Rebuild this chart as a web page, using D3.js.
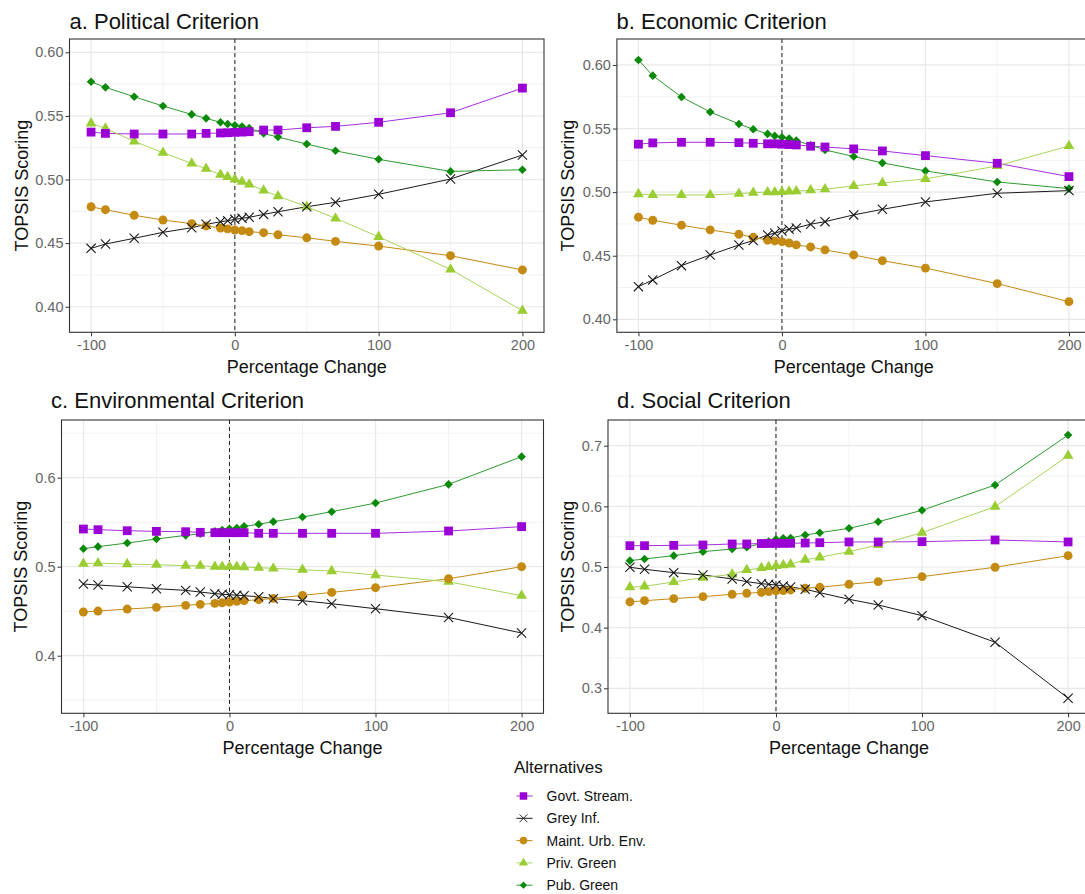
<!DOCTYPE html>
<html>
<head>
<meta charset="utf-8">
<script src="https://cdn.jsdelivr.net/npm/d3@7"></script>
<style>
  body { margin: 0; background: #fff; }
  svg { display: block; font-family: "Liberation Sans", Arial, Helvetica, sans-serif; }
</style>
</head>
<body>
<svg id="chart" width="1085" height="894"></svg>
<script>
// Percentage change applied to each criterion weight
const changes = [-100, -90, -70, -50, -30, -20, -10, -5, 0, 5, 10, 20, 30, 50, 70, 100, 150, 200];

const alternatives = ["Govt. Stream.", "Grey Inf.", "Maint. Urb. Env.", "Priv. Green", "Pub. Green"];

// TOPSIS scores, political criterion
const politicalGovt  = [0.5373,0.5363,0.5358,0.5358,0.5358,0.5363,0.5366,0.5368,0.5371,0.5373,0.5376,0.5389,0.5389,0.5407,0.5418,0.5450,0.5525,0.5719];
const politicalGrey  = [0.4459,0.4493,0.4538,0.4585,0.4621,0.4648,0.4668,0.4676,0.4687,0.4695,0.4703,0.4726,0.4747,0.4786,0.4821,0.4884,0.5004,0.5193];
const politicalMaint = [0.4786,0.4763,0.4719,0.4682,0.4653,0.4635,0.4619,0.4612,0.4603,0.4598,0.4590,0.4582,0.4566,0.4542,0.4514,0.4477,0.4401,0.4289];
const politicalPriv  = [0.5442,0.5402,0.5300,0.5211,0.5127,0.5085,0.5038,0.5020,0.5002,0.4983,0.4962,0.4915,0.4870,0.4786,0.4695,0.4550,0.4294,0.3969];
const politicalPub   = [0.5769,0.5725,0.5651,0.5578,0.5512,0.5481,0.5450,0.5437,0.5427,0.5417,0.5404,0.5363,0.5334,0.5279,0.5226,0.5159,0.5064,0.5077];

// TOPSIS scores, economic criterion
const economicGovt  = [0.5377,0.5387,0.5392,0.5392,0.5389,0.5384,0.5380,0.5380,0.5377,0.5374,0.5371,0.5361,0.5355,0.5340,0.5324,0.5287,0.5227,0.5122];
const economicGrey  = [0.4257,0.4310,0.4422,0.4506,0.4585,0.4619,0.4664,0.4677,0.4695,0.4708,0.4719,0.4748,0.4768,0.4821,0.4865,0.4923,0.4991,0.5012];
const economicMaint = [0.4803,0.4779,0.4740,0.4703,0.4669,0.4645,0.4622,0.4616,0.4611,0.4600,0.4585,0.4569,0.4546,0.4506,0.4461,0.4403,0.4281,0.4139];
const economicPriv  = [0.4985,0.4978,0.4978,0.4978,0.4988,0.4996,0.5000,0.5000,0.5002,0.5005,0.5007,0.5015,0.5023,0.5049,0.5072,0.5104,0.5206,0.5363];
const economicPub   = [0.6039,0.5916,0.5748,0.5630,0.5536,0.5494,0.5458,0.5442,0.5432,0.5421,0.5405,0.5369,0.5332,0.5280,0.5230,0.5167,0.5080,0.5028];

// TOPSIS scores, environmental criterion
const environmentalGovt  = [0.5423,0.5416,0.5404,0.5397,0.5393,0.5386,0.5382,0.5382,0.5382,0.5382,0.5382,0.5375,0.5375,0.5375,0.5375,0.5375,0.5401,0.5450];
const environmentalGrey  = [0.4805,0.4794,0.4775,0.4753,0.4734,0.4715,0.4697,0.4691,0.4685,0.4680,0.4674,0.4663,0.4640,0.4618,0.4584,0.4528,0.4430,0.4255];
const environmentalMaint = [0.4491,0.4502,0.4524,0.4543,0.4566,0.4577,0.4588,0.4595,0.4603,0.4610,0.4618,0.4629,0.4644,0.4678,0.4711,0.4764,0.4865,0.5000];
const environmentalPriv  = [0.5034,0.5040,0.5030,0.5022,0.5011,0.5011,0.5000,0.5000,0.5000,0.5000,0.4996,0.4989,0.4981,0.4966,0.4951,0.4906,0.4831,0.4674];
const environmentalPub   = [0.5202,0.5225,0.5266,0.5311,0.5352,0.5370,0.5397,0.5412,0.5427,0.5435,0.5453,0.5476,0.5506,0.5558,0.5618,0.5715,0.5925,0.6236];

// TOPSIS scores, social criterion
const socialGovt  = [0.5352,0.5352,0.5357,0.5363,0.5380,0.5380,0.5387,0.5388,0.5389,0.5390,0.5391,0.5396,0.5401,0.5413,0.5413,0.5418,0.5446,0.5413];
const socialGrey  = [0.4996,0.4963,0.4907,0.4869,0.4803,0.4759,0.4725,0.4715,0.4704,0.4688,0.4671,0.4633,0.4577,0.4468,0.4374,0.4198,0.3760,0.2837];
const socialMaint = [0.4424,0.4445,0.4478,0.4511,0.4550,0.4567,0.4583,0.4594,0.4605,0.4613,0.4622,0.4650,0.4666,0.4715,0.4759,0.4841,0.4996,0.5187];
const socialPriv  = [0.4666,0.4682,0.4753,0.4825,0.4880,0.4951,0.4984,0.5000,0.5017,0.5030,0.5045,0.5121,0.5160,0.5253,0.5363,0.5566,0.5995,0.6835];
const socialPub   = [0.5105,0.5133,0.5187,0.5253,0.5297,0.5325,0.5390,0.5420,0.5457,0.5474,0.5479,0.5528,0.5566,0.5638,0.5747,0.5935,0.6352,0.7176];

// Axis ticks
const xTicks = [-100, 0, 100, 200];
const xMinorTicks = [-50, 50, 150];
const yTicksPolitical = [0.40, 0.45, 0.50, 0.55, 0.60];
const yTicksEconomic = [0.40, 0.45, 0.50, 0.55, 0.60];
const yTicksEnvironmental = [0.4, 0.5, 0.6];
const yTicksSocial = [0.3, 0.4, 0.5, 0.6, 0.7];

const panelTitles = ["a. Political Criterion", "b. Economic Criterion", "c. Environmental Criterion", "d. Social Criterion"];

// Appearance of each alternative
const styles = {
  "Govt. Stream.":    { color: "#9a00d6", line: "#a62ee0", shape: "square" },
  "Grey Inf.":        { color: "#1a1a1a", line: "#1a1a1a", shape: "cross" },
  "Maint. Urb. Env.": { color: "#c48a12", line: "#c48a12", shape: "circle" },
  "Priv. Green":      { color: "#9acd32", line: "#a8d45a", shape: "triangle" },
  "Pub. Green":       { color: "#0a8a0a", line: "#2e9a2e", shape: "diamond" }
};

const panels = [
  { title: panelTitles[0], series: [politicalGovt, politicalGrey, politicalMaint, politicalPriv, politicalPub],
    yTicks: yTicksPolitical, fmt: ".2f", yDomain: [0.3799, 0.6105],
    box: { left: 69.5, right: 544, top: 39, bottom: 332.3 }, titleX: 69.5, titleY: 28.5, yLabelX: 22 },
  { title: panelTitles[1], series: [economicGovt, economicGrey, economicMaint, economicPriv, economicPub],
    yTicks: yTicksEconomic, fmt: ".2f", yDomain: [0.3898, 0.6204],
    box: { left: 616.9, right: 1090.5, top: 39, bottom: 332.3 }, titleX: 616.5, titleY: 28.5, yLabelX: 568 },
  { title: panelTitles[2], series: [environmentalGovt, environmentalGrey, environmentalMaint, environmentalPriv, environmentalPub],
    yTicks: yTicksEnvironmental, fmt: ".1f", yDomain: [0.3353, 0.6648],
    box: { left: 61.5, right: 543.5, top: 420, bottom: 713.3 }, titleX: 51, titleY: 408, yLabelX: 21 },
  { title: panelTitles[3], series: [socialGovt, socialGrey, socialMaint, socialPriv, socialPub],
    yTicks: yTicksSocial, fmt: ".1f", yDomain: [0.2588, 0.7424],
    box: { left: 608, right: 1090, top: 420, bottom: 713.3 }, titleX: 617, titleY: 408, yLabelX: 568 }
];

const svg = d3.select("#chart");
const xDomain = [-115, 215];

function markerPath(shape) {
  switch (shape) {
    case "square": return "M-4.4,-4.4H4.4V4.4H-4.4Z";
    case "circle": return d3.symbol(d3.symbolCircle, 62)();
    case "triangle": return d3.symbol(d3.symbolTriangle, 50)();
    case "diamond": return "M0,-4.3L4.3,0L0,4.3L-4.3,0Z";
    case "cross": return "M-4.6,-4.6L4.6,4.6M-4.6,4.6L4.6,-4.6";
  }
}

function drawMarker(sel, shape, color) {
  const p = sel.append("path").attr("d", markerPath(shape));
  if (shape === "cross") p.attr("fill", "none").attr("stroke", color).attr("stroke-width", 1.1);
  else p.attr("fill", color);
  return p;
}

panels.forEach(panel => {
  const b = panel.box;
  const x = d3.scaleLinear().domain(xDomain).range([b.left, b.right]);
  const y = d3.scaleLinear().domain(panel.yDomain).range([b.bottom, b.top]);
  const g = svg.append("g");

  // grid
  const yMinor = d3.range(panel.yTicks.length - 1).map(i => (panel.yTicks[i] + panel.yTicks[i + 1]) / 2);
  const step = panel.yTicks[1] - panel.yTicks[0];
  yMinor.push(panel.yTicks[0] - step / 2, panel.yTicks[panel.yTicks.length - 1] + step / 2);
  const yMinorIn = yMinor.filter(v => v > panel.yDomain[0] && v < panel.yDomain[1]);

  g.append("g").selectAll("line").data(yMinorIn).join("line")
    .attr("x1", b.left).attr("x2", b.right).attr("y1", d => y(d)).attr("y2", d => y(d))
    .attr("stroke", "#f2f2f2").attr("stroke-width", 1);
  g.append("g").selectAll("line").data(xMinorTicks).join("line")
    .attr("x1", d => x(d)).attr("x2", d => x(d)).attr("y1", b.top).attr("y2", b.bottom)
    .attr("stroke", "#f2f2f2").attr("stroke-width", 1);
  g.append("g").selectAll("line").data(panel.yTicks).join("line")
    .attr("x1", b.left).attr("x2", b.right).attr("y1", d => y(d)).attr("y2", d => y(d))
    .attr("stroke", "#e8e8e8").attr("stroke-width", 1.2);
  g.append("g").selectAll("line").data(xTicks).join("line")
    .attr("x1", d => x(d)).attr("x2", d => x(d)).attr("y1", b.top).attr("y2", b.bottom)
    .attr("stroke", "#e8e8e8").attr("stroke-width", 1.2);

  // reference line at no change
  g.append("line")
    .attr("x1", x(0)).attr("x2", x(0)).attr("y1", b.top).attr("y2", b.bottom)
    .attr("stroke", "#222").attr("stroke-width", 1).attr("stroke-dasharray", "4,3");

  // lines
  const line = d3.line().x((d, i) => x(changes[i])).y(d => y(d));
  panel.series.forEach((vals, k) => {
    const st = styles[alternatives[k]];
    g.append("path").datum(vals).attr("d", line)
      .attr("fill", "none").attr("stroke", st.line).attr("stroke-width", 1);
  });

  // points, drawn last-to-first so Govt. Stream. sits on top
  for (let k = panel.series.length - 1; k >= 0; k--) {
    const st = styles[alternatives[k]];
    const pts = g.append("g").selectAll("g").data(panel.series[k]).join("g")
      .attr("transform", (d, i) => `translate(${x(changes[i])},${y(d)})`);
    pts.each(function () { drawMarker(d3.select(this), st.shape, st.color); });
  }

  // border
  g.append("rect").attr("x", b.left).attr("y", b.top)
    .attr("width", b.right - b.left).attr("height", b.bottom - b.top)
    .attr("fill", "none").attr("stroke", "#333").attr("stroke-width", 1.1);

  // axes
  const fmt = d3.format(panel.fmt);
  const yAxis = g.append("g").attr("transform", `translate(${b.left},0)`)
    .call(d3.axisLeft(y).tickValues(panel.yTicks).tickFormat(fmt).tickSize(4).tickPadding(2));
  const xAxis = g.append("g").attr("transform", `translate(0,${b.bottom})`)
    .call(d3.axisBottom(x).tickValues(xTicks).tickFormat(d => String(d)).tickSize(4).tickPadding(3));
  [yAxis, xAxis].forEach(a => {
    a.select(".domain").remove();
    a.selectAll(".tick line").attr("stroke", "#333");
    a.selectAll(".tick text").attr("fill", "#666").style("font-size", "14.5px")
      .style("font-family", '"Liberation Sans", Arial, sans-serif');
  });

  // titles
  svg.append("text").attr("x", panel.titleX).attr("y", panel.titleY)
    .style("font-size", "22px").attr("fill", "#111").text(panel.title);
  svg.append("text").attr("x", (b.left + b.right) / 2).attr("y", b.bottom + 41)
    .attr("text-anchor", "middle").style("font-size", "18px").attr("fill", "#111")
    .text("Percentage Change");
  svg.append("text")
    .attr("transform", `translate(${panel.yLabelX + 6},${(b.top + b.bottom) / 2}) rotate(-90)`)
    .attr("text-anchor", "middle").style("font-size", "18px").attr("fill", "#111")
    .text("TOPSIS Scoring");
});

// legend
const legend = svg.append("g");
legend.append("text").attr("x", 514).attr("y", 773)
  .style("font-size", "17px").attr("fill", "#111").text("Alternatives");
const item = legend.selectAll("g.item").data(alternatives).join("g")
  .attr("class", "item")
  .attr("transform", (d, i) => `translate(523.5,${796 + i * 22.3})`);
item.append("line").attr("x1", -7).attr("x2", 9).attr("y1", 0).attr("y2", 0)
  .attr("stroke", d => styles[d].line).attr("stroke-width", 1);
item.each(function (d) { drawMarker(d3.select(this), styles[d].shape, styles[d].color).attr("transform", "scale(0.85)"); });
item.append("text").attr("x", 23).attr("y", 5)
  .style("font-size", "14px").attr("fill", "#111").text(d => d);
</script>
</body>
</html>
